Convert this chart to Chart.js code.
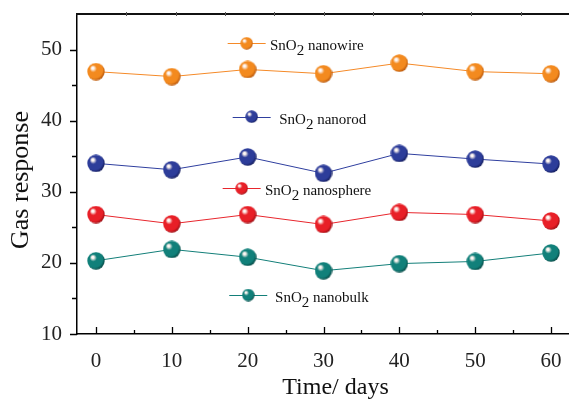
<!DOCTYPE html>
<html><head><meta charset="utf-8">
<script src="https://cdn.jsdelivr.net/npm/chart.js@4/dist/chart.umd.min.js"></script>
<style>
html,body{margin:0;padding:0;background:#fff;overflow:hidden}
#wrap{width:569px;height:399px;overflow:hidden;position:relative;background:#fff}
canvas{display:block}
</style></head><body>
<div id="wrap"><canvas id="c" width="580" height="399"></canvas></div>
<script>
// ---- data ----
const days = [0, 10, 20, 30, 40, 50, 60];
const nanowire   = [46.9, 46.2, 47.2, 46.6, 48.1, 46.9, 46.6];
const nanorod    = [34.0, 33.1, 34.9, 32.6, 35.4, 34.6, 33.9];
const nanosphere = [26.8, 25.5, 26.8, 25.4, 27.1, 26.8, 25.9];
const nanobulk   = [20.3, 21.9, 20.8, 18.9, 19.9, 20.2, 21.4];
const seriesNames = ['nanowire', 'nanorod', 'nanosphere', 'nanobulk'];
const xTickValues = [0, 10, 20, 30, 40, 50, 60];
const xMinorTicks = [5, 15, 25, 35, 45, 55];
const yTickValues = [10, 20, 30, 40, 50];
const yMinorTicks = [15, 25, 35, 45];
const xTitle = 'Time/ days';
const yTitle = 'Gas response';
// legend label anchors in data units (marker x, marker y, text start x)
const legendMarkerX = [19.87, 20.53, 19.21, 20.08];
const legendMarkerY = [50.88, 40.56, 30.49, 15.48];
const legendTextX   = [22.95, 24.17, 22.29, 23.61];

const colors = {
  nanowire:   {base: '#f38a1f', dark: '#b8560a', line: '#f58a28'},
  nanorod:    {base: '#2d3d9a', dark: '#141d5e', line: '#2f3f9f'},
  nanosphere: {base: '#e81f27', dark: '#9c0c12', line: '#e8262d'},
  nanobulk:   {base: '#11807a', dark: '#064a46', line: '#137f79'}
};
const FONT = '"Liberation Serif", "Times New Roman", serif';

function makeSphere(d, c) {
  const cv = document.createElement('canvas');
  cv.width = d; cv.height = d;
  const g = cv.getContext('2d');
  const r = d / 2;
  const grad = g.createRadialGradient(r - 0.38 * r, r - 0.42 * r, 0, r - 0.15 * r, r - 0.15 * r, r * 1.15);
  grad.addColorStop(0, '#ffffff');
  grad.addColorStop(0.12, '#fdf3ee');
  grad.addColorStop(0.35, c.base);
  grad.addColorStop(0.8, c.base);
  grad.addColorStop(1, c.dark);
  g.fillStyle = grad;
  g.beginPath();
  g.arc(r, r, r - 0.3, 0, Math.PI * 2);
  g.fill();
  return cv;
}

const seriesData = {nanowire, nanorod, nanosphere, nanobulk};
const datasets = seriesNames.map(n => ({
  label: 'SnO2 ' + n,
  data: days.map((d, i) => ({x: d, y: seriesData[n][i]})),
  borderColor: colors[n].line,
  borderWidth: 1,
  pointStyle: makeSphere(18, colors[n]),
  pointRadius: 9,
  pointHoverRadius: 9,
  fill: false,
  tension: 0
}));

const decor = {
  id: 'decor',
  afterDraw(chart) {
    const ctx = chart.ctx;
    const xs = chart.scales.x, ys = chart.scales.y;
    const a = chart.chartArea;
    ctx.save();
    ctx.strokeStyle = '#000';
    ctx.lineWidth = 1.3;
    ctx.beginPath();
    yTickValues.forEach(v => { const p = Math.round(ys.getPixelForValue(v)) + 0.5; ctx.moveTo(a.left - 7, p); ctx.lineTo(a.left, p); });
    yMinorTicks.forEach(v => { const p = Math.round(ys.getPixelForValue(v)) + 0.5; ctx.moveTo(a.left - 5, p); ctx.lineTo(a.left, p); });
    xTickValues.forEach(v => { const p = Math.round(xs.getPixelForValue(v)) + 0.5; ctx.moveTo(p, a.bottom); ctx.lineTo(p, a.bottom - 7); });
    xMinorTicks.forEach(v => { const p = Math.round(xs.getPixelForValue(v)) + 0.5; ctx.moveTo(p, a.bottom); ctx.lineTo(p, a.bottom - 4); });
    ctx.stroke();
    // top frame line
    ctx.lineWidth = 2;
    ctx.strokeStyle = '#111';
    ctx.beginPath();
    ctx.moveTo(a.left - 1, a.top); ctx.lineTo(a.right, a.top);
    ctx.stroke();
    ctx.lineWidth = 1;
    ctx.strokeStyle = '#555';
    ctx.beginPath();
    for (let k = 1; k < 10; k++) {
      const p = Math.round(a.left + (a.right - a.left) * k / 10) + 0.5;
      ctx.moveTo(p, a.top - 2); ctx.lineTo(p, a.top + 2);
    }
    ctx.stroke();

    // axis titles
    ctx.fillStyle = '#111';
    ctx.font = '24px ' + FONT;
    ctx.textAlign = 'center';
    ctx.textBaseline = 'alphabetic';
    ctx.fillText(xTitle, (a.left + a.right) / 2 + 12, 394);
    ctx.save();
    ctx.translate(28, (a.top + a.bottom) / 2 + 6);
    ctx.rotate(-Math.PI / 2);
    ctx.font = '26px ' + FONT;
    ctx.fillText(yTitle, 0, 0);
    ctx.restore();

    // in-plot legend labels
    seriesNames.forEach((n, i) => {
      const mx = xs.getPixelForValue(legendMarkerX[i]);
      const my = ys.getPixelForValue(legendMarkerY[i]);
      const tx = xs.getPixelForValue(legendTextX[i]);
      ctx.strokeStyle = colors[n].line;
      ctx.lineWidth = 1;
      ctx.beginPath();
      ctx.moveTo(mx - 19, Math.round(my) + 0.5); ctx.lineTo(mx + 19, Math.round(my) + 0.5);
      ctx.stroke();
      const s = makeSphere(13, colors[n]);
      ctx.drawImage(s, mx - 6.5, my - 6.5);
      ctx.fillStyle = '#111';
      ctx.textAlign = 'left';
      ctx.textBaseline = 'alphabetic';
      ctx.font = '15px ' + FONT;
      const by = my + 7;
      ctx.fillText('SnO', tx, by);
      let w = ctx.measureText('SnO').width;
      ctx.fillText('2', tx + w, by + 5);
      w += ctx.measureText('2').width;
      ctx.fillText(' nano' + n.slice(4), tx + w, by);
    });
    ctx.restore();
  }
};

new Chart(document.getElementById('c'), {
  type: 'line',
  data: {datasets},
  options: {
    responsive: false,
    animation: false,
    events: [],
    layout: {padding: {top: 14, right: 0, left: 0, bottom: 0}},
    plugins: {legend: {display: false}, tooltip: {enabled: false}},
    scales: {
      x: {
        type: 'linear',
        min: -2.5, max: 62.5,
        afterBuildTicks: s => { s.ticks = xTickValues.map(v => ({value: v})); },
        afterFit: s => { s.height = 65; s.paddingLeft = 0; s.paddingRight = 0; },
        grid: {display: false},
        border: {display: true, color: '#000', width: 1.5},
        ticks: {color: '#222', font: {family: FONT, size: 21}, padding: 7, maxRotation: 0, autoSkip: false}
      },
      y: {
        type: 'linear',
        min: 10, max: 55,
        afterBuildTicks: s => { s.ticks = yTickValues.map(v => ({value: v})); },
        afterFit: s => { s.width = 77; s.paddingTop = 0; s.paddingBottom = 0; },
        grid: {display: false},
        border: {display: true, color: '#000', width: 1.5},
        ticks: {color: '#222', font: {family: FONT, size: 21}, padding: 7}
      }
    }
  },
  plugins: [decor]
});
</script>
</body></html>
